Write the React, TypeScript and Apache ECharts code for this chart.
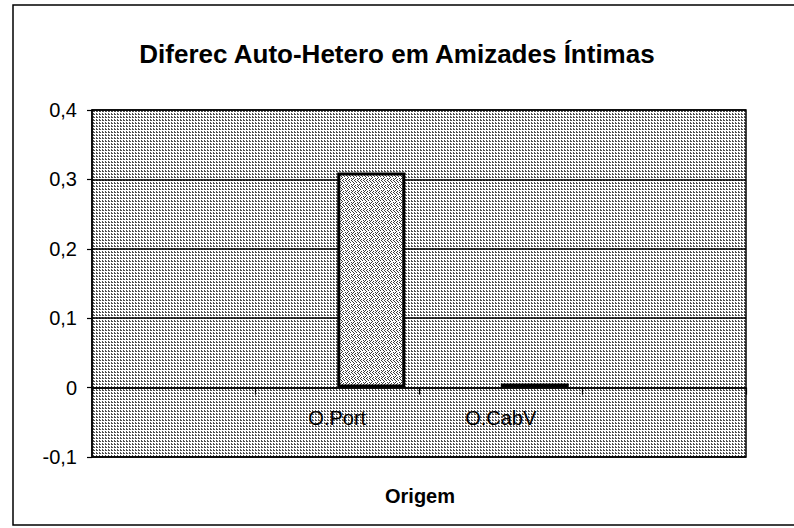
import React, { useEffect, useRef } from "react";
import * as echarts from "echarts";

const titleText = "Diferec Auto-Hetero em Amizades Íntimas";
const axisTitle = "Origem";
const categories = ["", "O.Port", "O.CabV", ""];
const emptySeries = [null, null, null, null];
const diffValues = [null, 0.31, 0.006, null];
const yMin = -0.1;
const yMax = 0.4;
const yStep = 0.1;

const FONT = "'Liberation Sans', Arial, sans-serif";
const GRID_TOP = 110;
const GRID_BOTTOM = 71;
const CHART_H = 528;

function makePattern(size: number, dots: number[][], dark: string, light: string) {
  const c = document.createElement("canvas");
  c.width = size;
  c.height = size;
  const ctx = c.getContext("2d")!;
  ctx.fillStyle = light;
  ctx.fillRect(0, 0, size, size);
  ctx.fillStyle = dark;
  dots.forEach(([x, y]) => ctx.fillRect(x, y, 1, 1));
  return { image: c, repeat: "repeat", imageWidth: size, imageHeight: size } as any;
}

export default function App() {
  const ref = useRef<HTMLDivElement>(null);
  useEffect(() => {
    if (!ref.current) return;
    const chart = echarts.init(ref.current, null, { renderer: "svg" });
    const bgPattern = makePattern(3, [[0, 0], [1, 0], [0, 2]], "#505050", "#ffffff");
    const barPattern = makePattern(
      6,
      [[0, 0], [3, 0], [4, 1], [1, 1], [2, 2], [5, 2], [0, 3], [3, 4], [1, 5], [4, 5], [5, 4]],
      "#3a3a3a",
      "#ffffff"
    );
    // place the category axis on the zero line (offset from the grid bottom)
    const plotH = CHART_H - GRID_TOP - GRID_BOTTOM;
    const zeroOffset = -((0 - yMin) / (yMax - yMin)) * plotH;
    chart.setOption({
      animation: false,
      title: {
        text: titleText,
        left: "center",
        top: 41,
        padding: 0,
        textStyle: { fontFamily: FONT, fontSize: 26, fontWeight: "bold", color: "#000" },
      },
      grid: {
        left: 92,
        right: 48,
        top: GRID_TOP,
        bottom: GRID_BOTTOM,
        show: true,
        backgroundColor: bgPattern,
        borderColor: "#000",
        borderWidth: 1.5,
      },
      xAxis: {
        type: "category",
        data: categories,
        boundaryGap: true,
        offset: zeroOffset,
        axisLine: { onZero: false, lineStyle: { color: "#000", width: 1.5 } },
        axisTick: { show: true, interval: 0, alignWithLabel: false, length: 7, lineStyle: { color: "#000", width: 1.2 } },
        axisLabel: { interval: 0, margin: 20, fontSize: 20, color: "#000", fontFamily: FONT },
        splitLine: { show: false },
      },
      yAxis: {
        type: "value",
        min: yMin,
        max: yMax,
        interval: yStep,
        axisLine: { show: true, lineStyle: { color: "#000", width: 1.5 } },
        axisTick: { show: true, length: 5, lineStyle: { color: "#000", width: 1.2 } },
        axisLabel: {
          margin: 15,
          fontSize: 20,
          color: "#000",
          fontFamily: FONT,
          formatter: (v: number) => (Math.abs(v) < 1e-9 ? "0" : v.toFixed(1).replace(".", ",")),
        },
        splitLine: { show: true, lineStyle: { color: "#000", width: 1.5 } },
      },
      series: [
        {
          type: "bar",
          data: emptySeries,
          barWidth: 68,
          barGap: "0%",
        },
        {
          type: "bar",
          data: diffValues,
          barWidth: 68,
          barGap: "0%",
          itemStyle: { color: barPattern, borderColor: "#000", borderWidth: 3 },
        },
      ],
      graphic: [
        {
          type: "rect",
          shape: { x: 13, y: 5, width: 800, height: 520 },
          style: { fill: "none", stroke: "#000", lineWidth: 1.5 },
          silent: true,
        },
        {
          type: "text",
          x: 420,
          y: 496,
          style: {
            text: axisTitle,
            align: "center",
            verticalAlign: "middle",
            fontFamily: FONT,
            fontSize: 20,
            fontWeight: "bold",
            fill: "#000",
          },
        },
      ],
    });
    return () => chart.dispose();
  }, []);
  return (
    <div
      ref={ref}
      style={{ position: "fixed", left: 0, top: 0, width: 794, height: CHART_H, background: "#fff" }}
    />
  );
}
